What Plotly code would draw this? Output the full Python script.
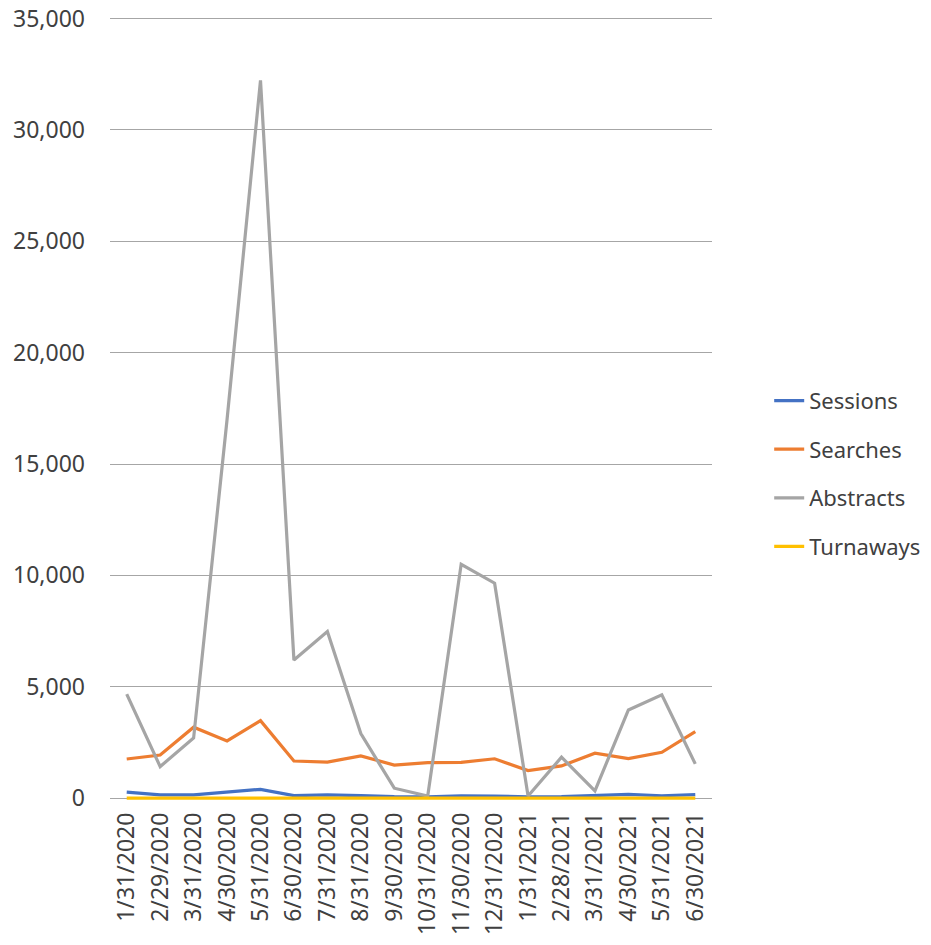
import plotly.graph_objects as go

months = ["1/31/2020", "2/29/2020", "3/31/2020", "4/30/2020", "5/31/2020", "6/30/2020",
          "7/31/2020", "8/31/2020", "9/30/2020", "10/31/2020", "11/30/2020", "12/31/2020",
          "1/31/2021", "2/28/2021", "3/31/2021", "4/30/2021", "5/31/2021", "6/30/2021"]
sessions = [270, 150, 150, 280, 400, 120, 150, 120, 70, 60, 110, 100, 60, 70, 110, 170, 110, 160]
searches = [1760, 1940, 3190, 2570, 3480, 1670, 1620, 1900, 1490, 1600, 1610, 1770, 1240, 1450, 2020, 1780, 2060, 2990]
abstracts = [4670, 1420, 2700, 17000, 32220, 6200, 7480, 2900, 450, 100, 10500, 9650, 100, 1840, 330, 3960, 4640, 1540]
turnaways = [0] * 18

series = [("Sessions", sessions, "#4472C4"),
          ("Searches", searches, "#ED7D31"),
          ("Abstracts", abstracts, "#A5A5A5"),
          ("Turnaways", turnaways, "#FFC000")]

fig = go.Figure()
for name, vals, col in series:
    fig.add_trace(go.Scatter(x=months, y=vals, name=name, mode="lines",
                             line=dict(color=col, width=3.2), legendgroup=name))

fig.update_layout(
    width=931, height=945,
    margin=dict(l=110, r=219, t=13.6, b=145.2, autoexpand=False),
    paper_bgcolor="white", plot_bgcolor="white",
    font=dict(family="Noto Sans", size=23, color="#404040"),
    showlegend=True,
    legend=dict(x=1.095, y=0.415, xanchor="left", yanchor="middle",
                tracegroupgap=17, font=dict(size=22, color="#404040"),
                bgcolor="rgba(0,0,0,0)"),
    xaxis=dict(type="category", range=[-0.5, 17.5], tickangle=-90,
               showgrid=False, showline=False, zeroline=False, automargin=False,
               ticks="", ticklabelstandoff=7, tickfont=dict(size=23, color="#404040")),
    yaxis=dict(range=[-80, 35200], tickvals=[0, 5000, 10000, 15000, 20000, 25000, 30000, 35000],
               tickformat=",d", automargin=False, ticklabeloverflow="allow",
               showgrid=True, gridcolor="#A6A6A6", gridwidth=1,
               zeroline=False, showline=False, ticks="", ticklabelstandoff=24,
               tickfont=dict(size=23, color="#404040")),
)
fig.write_html("out.html", config={"displayModeBar": False},
               post_script="document.body.style.margin='0';document.body.style.overflow='hidden';")
